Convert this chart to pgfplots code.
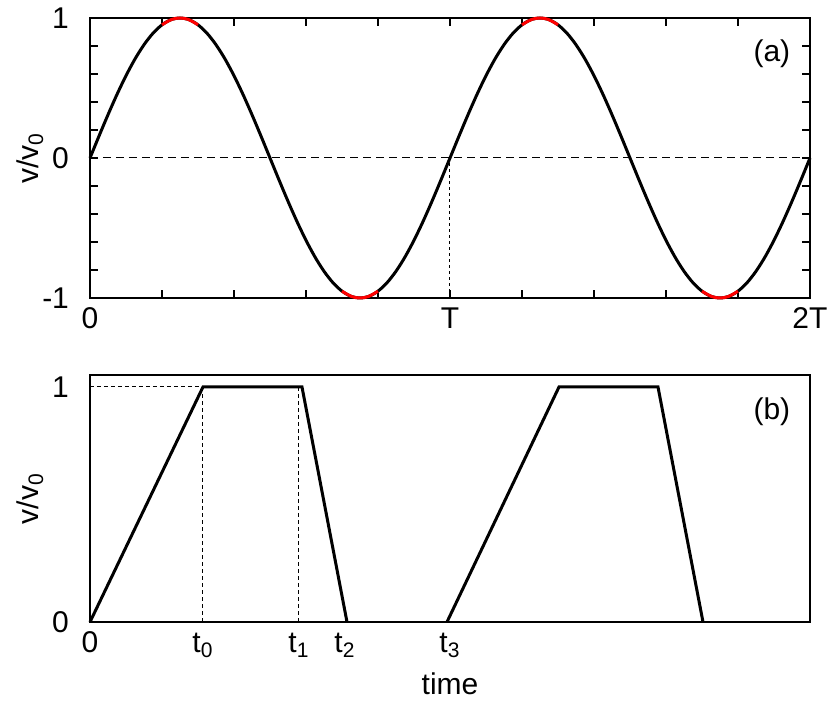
\documentclass[border=0pt]{standalone}
\usepackage{fontspec}
\setmainfont{Liberation Sans}
\usepackage{pgfplots}
\pgfplotsset{compat=1.18}
\pgfplotsset{
  common/.style={
    scale only axis, width=360pt,
    axis line style={line width=1pt},
    tick align=inside,
    every tick/.style={black, line width=0.8pt},
    clip=false,
    font=\fontsize{15}{17}\selectfont,
    xticklabel style={anchor=base, yshift=-15.5pt},
    yticklabel style={anchor=east, xshift=-7pt},
    ylabel style={at={(axis description cs:-0.0833,0.5)}, anchor=center},
  }
}
\begin{document}
\begin{tikzpicture}
\useasboundingbox (-45pt,-42pt) rectangle (370pt,311pt);
% ---------- panel (a)
\begin{axis}[common,
  at={(0,162pt)}, anchor=south west, height=140pt,
  xmin=0, xmax=2, ymin=-1, ymax=1,
  xtick={0,1,2}, xticklabels={0,T,2T},
  ytick={-1,0,1}, yticklabels={-1,0,1},
  minor x tick num=4, minor y tick num=4,
  tick pos=both,
  major tick length=4pt, minor tick length=4pt,
  ylabel={v/v\textsubscript{0}},
]
\addplot[black, line width=0.5pt, dash pattern=on 4pt off 2.5pt] coordinates {(0,0) (2,0)};
\addplot[black, line width=0.5pt, dash pattern=on 1.5pt off 1.5pt] coordinates {(1,-1) (1,0)};
\addplot[black, line width=1.5pt, smooth] coordinates {
(0,0) (0.025,0.1564) (0.05,0.3090) (0.075,0.4540) (0.1,0.5878) (0.125,0.7071)
(0.15,0.8090) (0.175,0.8910) (0.2,0.9511) (0.225,0.9877) (0.25,1)
(0.275,0.9877) (0.3,0.9511) (0.325,0.8910) (0.35,0.8090) (0.375,0.7071)
(0.4,0.5878) (0.425,0.4540) (0.45,0.3090) (0.475,0.1564) (0.5,0)
(0.525,-0.1564) (0.55,-0.3090) (0.575,-0.4540) (0.6,-0.5878) (0.625,-0.7071)
(0.65,-0.8090) (0.675,-0.8910) (0.7,-0.9511) (0.725,-0.9877) (0.75,-1)
(0.775,-0.9877) (0.8,-0.9511) (0.825,-0.8910) (0.85,-0.8090) (0.875,-0.7071)
(0.9,-0.5878) (0.925,-0.4540) (0.95,-0.3090) (0.975,-0.1564) (1,0)
(1.025,0.1564) (1.05,0.3090) (1.075,0.4540) (1.1,0.5878) (1.125,0.7071)
(1.15,0.8090) (1.175,0.8910) (1.2,0.9511) (1.225,0.9877) (1.25,1)
(1.275,0.9877) (1.3,0.9511) (1.325,0.8910) (1.35,0.8090) (1.375,0.7071)
(1.4,0.5878) (1.425,0.4540) (1.45,0.3090) (1.475,0.1564) (1.5,0)
(1.525,-0.1564) (1.55,-0.3090) (1.575,-0.4540) (1.6,-0.5878) (1.625,-0.7071)
(1.65,-0.8090) (1.675,-0.8910) (1.7,-0.9511) (1.725,-0.9877) (1.75,-1)
(1.775,-0.9877) (1.8,-0.9511) (1.825,-0.8910) (1.85,-0.8090) (1.875,-0.7071)
(1.9,-0.5878) (1.925,-0.4540) (1.95,-0.3090) (1.975,-0.1564) (2,0)
};
\addplot[red, line width=1.5pt, smooth] coordinates {(0.2,0.9511) (0.225,0.9877) (0.25,1) (0.275,0.9877) (0.3,0.9511)};
\addplot[red, line width=1.5pt, smooth] coordinates {(0.7,-0.9511) (0.725,-0.9877) (0.75,-1) (0.775,-0.9877) (0.8,-0.9511)};
\addplot[red, line width=1.5pt, smooth] coordinates {(1.2,0.9511) (1.225,0.9877) (1.25,1) (1.275,0.9877) (1.3,0.9511)};
\addplot[red, line width=1.5pt, smooth] coordinates {(1.7,-0.9511) (1.725,-0.9877) (1.75,-1) (1.775,-0.9877) (1.8,-0.9511)};
\node at (axis description cs:0.947,0.871) {(a)};
\end{axis}
% ---------- panel (b)
\begin{axis}[common,
  at={(0,0)}, anchor=south west, height=123.5pt,
  xmin=0, xmax=720, ymin=0, ymax=1.051,
  xtick={0,113,209,255,360},
  xticklabels={0,t\textsubscript{0},t\textsubscript{1},t\textsubscript{2},t\textsubscript{3}},
  ytick={0,1}, yticklabels={0,1},
  major tick length=0pt,
  xlabel={time},
  xlabel style={at={(axis description cs:0.5,0)}, anchor=base, yshift=-36.5pt},
  ylabel={v/v\textsubscript{0}},
]
\addplot[black, line width=0.5pt, dash pattern=on 2pt off 1.5pt] coordinates {(0,1) (113,1)};
\addplot[black, line width=0.5pt, dash pattern=on 2pt off 1.5pt] coordinates {(113,0) (113,1)};
\addplot[black, line width=0.5pt, dash pattern=on 2pt off 1.5pt] coordinates {(208,0) (208,1)};
\addplot[black, line width=1.5pt] coordinates {(0,0) (113,1) (212,1) (257,0)};
\addplot[black, line width=1.5pt] coordinates {(357,0) (469,1) (568,1) (613,0)};
\node at (axis description cs:0.947,0.85) {(b)};
\end{axis}
\end{tikzpicture}
\end{document}
